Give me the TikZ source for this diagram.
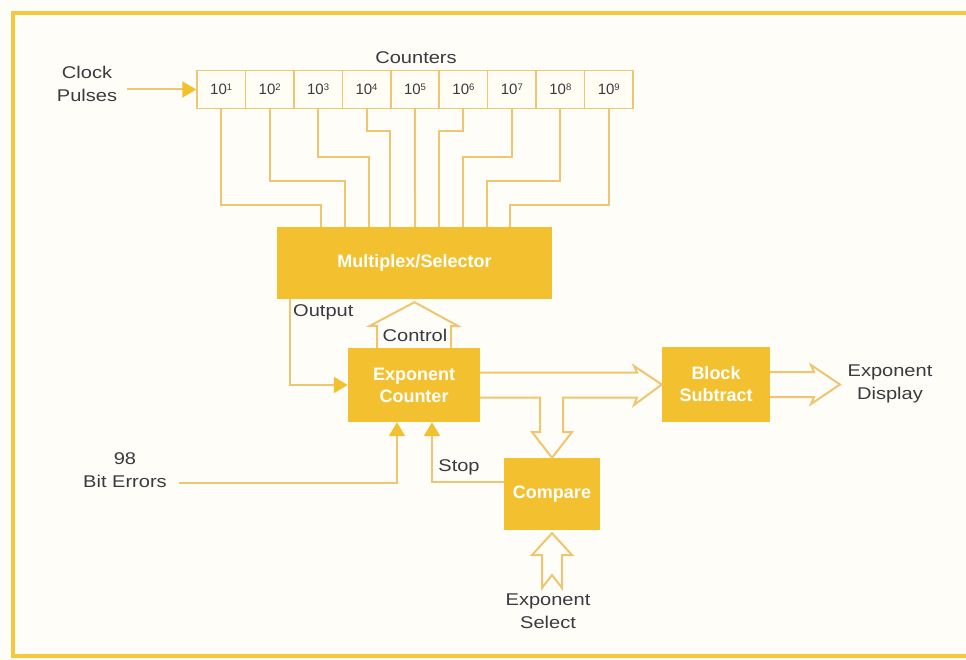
\documentclass[tikz,border=0pt]{standalone}
\usepackage{fontspec}
\setmainfont{Liberation Sans}[FakeStretch=1.18]
\newfontfamily\boxfont{Liberation Sans}
\usetikzlibrary{arrows.meta}
\definecolor{boxY}{RGB}{243,193,48}
\definecolor{wireC}{RGB}{238,198,114}
\definecolor{frameC}{RGB}{245,200,62}
\definecolor{txtC}{RGB}{58,58,64}
\definecolor{bgC}{RGB}{254,253,248}
\definecolor{cellF}{RGB}{255,253,244}
\newcommand{\tenpow}[1]{10\raisebox{4.5pt}{\fontsize{9.5}{10}\selectfont #1}}
\begin{document}
\begin{tikzpicture}[x=1pt,y=-1pt,
  lbl/.style={text=txtC,font=\fontsize{17}{23}\selectfont,align=center,inner sep=0pt},
  blk/.style={fill=boxY,text=white,font=\boxfont\bfseries\fontsize{18}{22}\selectfont,align=center,inner sep=0pt,draw=none},
  cell/.style={draw=wireC,line width=1.5pt,fill=cellF,minimum width=48.44pt,minimum height=38pt,inner sep=0pt,text=txtC,font=\boxfont\fontsize{15}{15}\selectfont},
  wire/.style={draw=wireC,line width=2pt,line join=miter},
  filltip/.style={-{Triangle[length=14pt,width=16pt,color=boxY]}},
  frame/.style={draw=frameC,line width=4.5pt}
]
\useasboundingbox (0,0) rectangle (966,660);
\fill[bgC] (0,0) rectangle (966,660);
\draw[frame] (966,13) -- (13,13) -- (13,656) -- (966,656);

% counters
\foreach \i in {1,...,9}
  \node[cell] (c\i) at ({197+48.44*(\i-0.5)},89.5) {\tenpow{\i}};
\node[lbl] (cntlbl) at (416,58) {Counters};

% clock
\node[lbl] (clk) at (87,84) {Clock\\Pulses};
\coordinate (clkS) at (127,89.5);
\draw[wire,filltip] (clkS) -- (c1.west);

% blocks
\node[blk,minimum width=275pt,minimum height=72pt] (mux) at (414.5,263) {Multiplex/Selector};
\node[blk,minimum width=132pt,minimum height=74pt] (ec) at (414,385) {Exponent\\Counter};
\node[blk,minimum width=108pt,minimum height=75pt] (bs) at (716,384.5) {Block\\Subtract};
\node[blk,minimum width=96pt,minimum height=72pt] (cmp) at (552,494) {Compare};

% wires counters -> mux
\coordinate (m1) at (321,227);
\coordinate (m2) at (345,227);
\coordinate (m3) at (369,227);
\coordinate (m4) at (390,227);
\coordinate (m5) at (415,227);
\coordinate (m6) at (439,227);
\coordinate (m7) at (463,227);
\coordinate (m8) at (487,227);
\coordinate (m9) at (510,227);
\draw[wire] (c1.south) -- ++(0,95.5) -| (m1);
\draw[wire] (c2.south) -- ++(0,71.5) -| (m2);
\draw[wire] (c3.south) -- ++(0,47.5) -| (m3);
\draw[wire] (c4.south) -- ++(0,21.5) -| (m4);
\draw[wire] (c5.south) -- (m5);
\draw[wire] (c6.south) -- ++(0,21.5) -| (m6);
\draw[wire] (c7.south) -- ++(0,47.5) -| (m7);
\draw[wire] (c8.south) -- ++(0,71.5) -| (m8);
\draw[wire] (c9.south) -- ++(0,95.5) -| (m9);

% output
\coordinate (outS) at (290,299);
\draw[wire,filltip] (outS) |- (ec.west);
\node[lbl,anchor=west] (outlbl) at (293,312) {Output};

% control (hollow arrow)
\draw[wire] ([xshift=-37pt]ec.north) -- ++(0,-22) -- ++(-7,0) -- ([yshift=-3pt]mux.south) -- (458,326) -- (451,326) -- ([xshift=37pt]ec.north);
\node[lbl] (ctllbl) at (415,335) {Control};

% counter -> block subtract and compare
\draw[wire] ([yshift=12.5pt]ec.east) -- (637,372.5) -- (634,366) -- (bs.west) -- (634,405) -- (637,397.5) -- (563,397.5) -- (563,432) -- (572,432) -- (cmp.north) -- (532,432) -- (540,432) -- (540,397.5) -- ([yshift=-12.5pt]ec.east);

% exponent display
\coordinate (dispA) at (840,384.5);
\draw[wire] ([yshift=12.5pt]bs.east) -- (814,372) -- (811,365) -- (dispA) -- (811,404) -- (814,397) -- ([yshift=-12.5pt]bs.east);
\node[lbl] (displbl) at (890,384) {Exponent\\Display};

% bit errors
\node[lbl] (bits) at (125,470) {98\\Bit Errors};
\coordinate (bitS) at (179,483);
\draw[wire,filltip] (bitS) -| ([xshift=-17pt]ec.south);

% stop
\draw[wire,filltip] ([yshift=12pt]cmp.west) -| ([xshift=18pt]ec.south);
\node[lbl] (stoplbl) at (459,467) {Stop};

% exponent select
\draw[wire] ([yshift=-3pt]cmp.south) -- (572,555) -- (562,555) -- (562,588) -- (552,575) -- (542,588) -- (542,555) -- (532,555) -- cycle;
\node[lbl] (sellbl) at (548,611) {Exponent\\Select};
\end{tikzpicture}
\end{document}
